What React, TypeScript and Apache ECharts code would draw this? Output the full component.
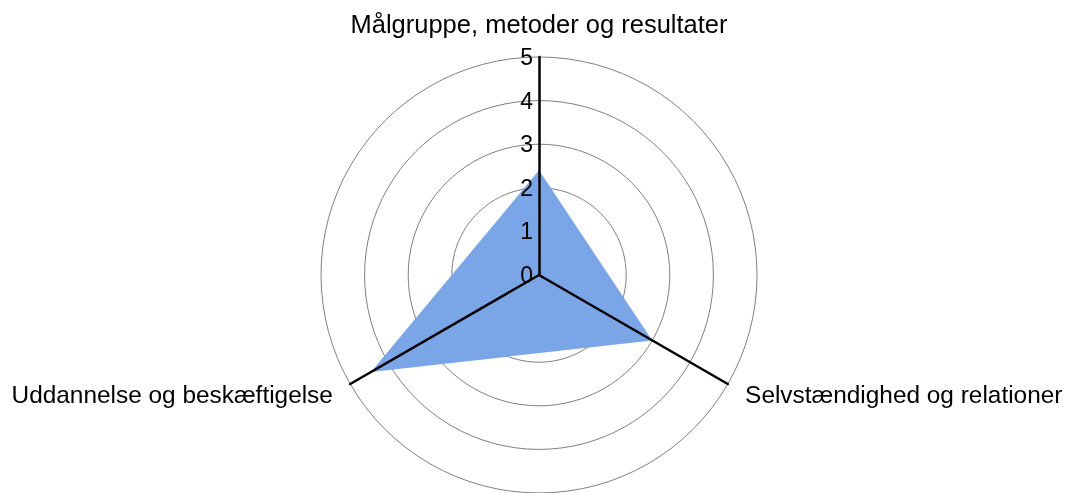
import React, { useEffect, useRef } from "react";
import * as echarts from "echarts";

const indicatorNames = [
  "Målgruppe, metoder og resultater",
  "Uddannelse og beskæftigelse",
  "Selvstændighed og relationer",
];
const seriesValues = [2.4, 4.45, 3.0];
const maxValue = 5;

export default function App() {
  const ref = useRef<HTMLDivElement>(null);
  useEffect(() => {
    if (!ref.current) return;
    const chart = echarts.init(ref.current, null, { renderer: "svg" });
    const base = {
      center: [539, 275],
      radius: 218,
      startAngle: 90,
      shape: "circle",
      splitNumber: 5,
      splitArea: { show: false },
      axisTick: { show: false },
    };
    chart.setOption({
      animation: false,
      radar: [
        {
          ...base,
          z: 1,
          nameGap: 20,
          axisName: {
            color: "#000",
            fontFamily: "Liberation Sans",
            fontSize: 25.5,
            formatter: (name: string) =>
              name === indicatorNames[0] ? `{t|${name}}` : `{s|${name}}`,
            rich: {
              t: { fontSize: 25.5, color: "#000", fontFamily: "Liberation Sans" },
              s: { fontSize: 24.4, color: "#000", fontFamily: "Liberation Sans" },
            },
          },
          indicator: indicatorNames.map((n) => ({ name: n, min: 0, max: maxValue })),
          axisLine: { show: false },
          splitLine: { lineStyle: { color: "#7f7f7f", width: 1 } },
          axisLabel: { show: false },
        },
        {
          ...base,
          z: 5,
          axisName: { show: false },
          indicator: indicatorNames.map((n, i) => ({
            name: n,
            min: 0,
            max: maxValue,
            axisLabel: { show: i === 0 },
          })),
          axisLine: { lineStyle: { color: "#000", width: 2.5 } },
          splitLine: { show: false },
          axisLabel: {
            show: true,
            color: "#000",
            fontFamily: "Liberation Sans",
            fontSize: 23,
            margin: 6,
            formatter: (v: number) => String(v),
          },
        },
      ],
      series: [
        {
          type: "radar",
          radarIndex: 0,
          z: 2,
          symbol: "none",
          lineStyle: { width: 0, opacity: 0 },
          areaStyle: { color: "#7aa6e8", opacity: 1 },
          data: [{ value: seriesValues }],
        },
      ],
    });
    return () => chart.dispose();
  }, []);
  return (
    <div
      ref={ref}
      style={{ position: "fixed", left: 0, top: 0, width: 1073, height: 493 }}
    />
  );
}
